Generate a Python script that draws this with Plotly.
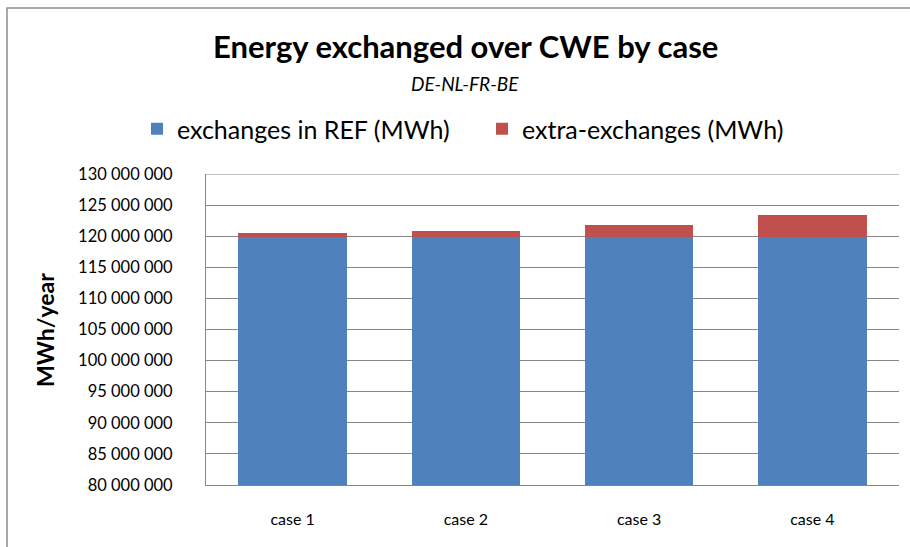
import plotly.graph_objects as go

# Chart data
cases = ["case 1", "case 2", "case 3", "case 4"]
ref_exchanges = [119_900_000, 119_900_000, 119_900_000, 119_900_000]
extra_exchanges = [550_000, 950_000, 1_950_000, 3_550_000]
y_tick_vals = [80_000_000 + 5_000_000 * i for i in range(11)]
y_tick_text = ["80 000 000", "85 000 000", "90 000 000", "95 000 000", "100 000 000",
               "105 000 000", "110 000 000", "115 000 000", "120 000 000",
               "125 000 000", "130 000 000"]

W, H = 910, 547
ML, MR, MT, MB = 206, 11, 174, 62
PW, PH = W - ML - MR, H - MT - MB


def px_x(px):
    return (px - ML) / PW


def px_y(py):
    return (H - MB - py) / PH


FONT = "Lato, 'Open Sans', sans-serif"
BLUE = "#4F81BD"
RED = "#C0504D"
GRID = "#868686"
CENTER_X = 465

fig = go.Figure()
fig.add_trace(go.Bar(x=cases, y=ref_exchanges, name="exchanges in REF (MWh)",
                     marker=dict(color=BLUE, line=dict(width=0))))
fig.add_trace(go.Bar(x=cases, y=extra_exchanges, name="extra-exchanges (MWh)",
                     marker=dict(color=RED, line=dict(width=0))))

fig.update_layout(
    width=W, height=H,
    margin=dict(l=ML, r=MR, t=MT, b=MB, pad=0),
    barmode="stack",
    bargap=0.373,
    paper_bgcolor="white",
    plot_bgcolor="white",
    font=dict(family=FONT, color="#000000"),
    showlegend=True,
    legend=dict(orientation="h", x=px_x(137), xanchor="left",
                y=px_y(129), yanchor="middle",
                font=dict(size=25, family=FONT), entrywidth=300,
                traceorder="normal", bgcolor="rgba(0,0,0,0)"),
    xaxis=dict(showline=True, linecolor=GRID, linewidth=1, showgrid=False,
               ticks="", tickfont=dict(size=16, family=FONT),
               ticklabelstandoff=20),
    yaxis=dict(range=[80_000_000, 130_000_000], tickvals=y_tick_vals,
               ticktext=y_tick_text, showline=True, linecolor=GRID, linewidth=1,
               showgrid=True, gridcolor=GRID, gridwidth=1, zeroline=False,
               ticks="", tickfont=dict(size=16.5, family=FONT),
               ticklabelstandoff=29),
    annotations=[
        dict(text="<b>Energy exchanged over CWE by case</b>", x=px_x(CENTER_X),
             y=px_y(46), xref="paper", yref="paper", showarrow=False,
             xanchor="center", yanchor="middle", font=dict(size=31, family=FONT)),
        dict(text="<i>DE-NL-FR-BE</i>", x=px_x(CENTER_X), y=px_y(83),
             xref="paper", yref="paper", showarrow=False, xanchor="center",
             yanchor="middle", font=dict(size=19, family=FONT)),
        dict(text="<b>MWh/year</b>", x=px_x(45), y=px_y(330), textangle=-90,
             xref="paper", yref="paper", showarrow=False, xanchor="center",
             yanchor="middle", font=dict(size=23, family=FONT)),
    ],
    shapes=[
        # outer chart frame
        dict(type="rect", xref="paper", yref="paper",
             x0=px_x(7), x1=px_x(930), y0=px_y(570), y1=px_y(8),
             line=dict(color="#8C8C8C", width=1.5), fillcolor="rgba(0,0,0,0)",
             layer="below"),
        # top gridline at 130 000 000
        dict(type="line", xref="paper", yref="y", x0=0, x1=1,
             y0=130_000_000, y1=130_000_000, line=dict(color=GRID, width=1)),
    ],
)

fig.write_html("out.html")
